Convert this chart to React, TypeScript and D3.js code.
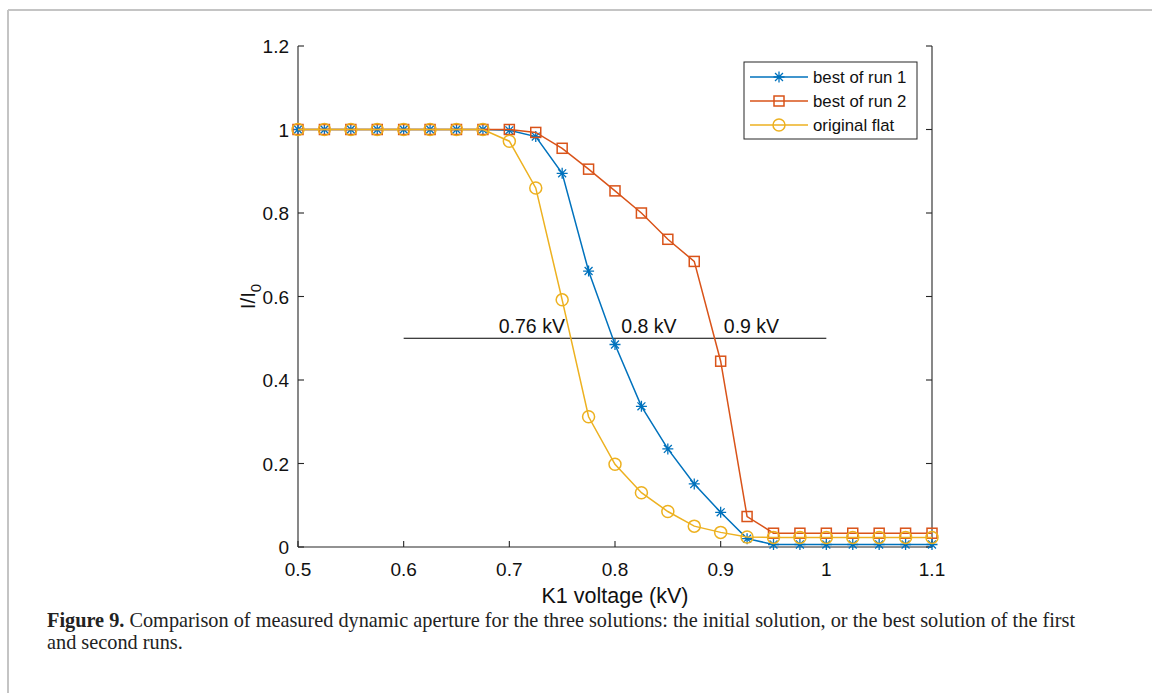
import React from 'react';
import * as d3 from 'd3';

// K1 voltage (kV), step 0.025
const voltages = [
  0.5, 0.525, 0.55, 0.575, 0.6, 0.625, 0.65, 0.675, 0.7, 0.725, 0.75, 0.775, 0.8,
  0.825, 0.85, 0.875, 0.9, 0.925, 0.95, 0.975, 1.0, 1.025, 1.05, 1.075, 1.1,
];

const run1 = [
  1, 1, 1, 1, 1, 1, 1, 1, 0.998, 0.983, 0.895, 0.661, 0.485,
  0.337, 0.235, 0.151, 0.083, 0.02, 0.006, 0.006, 0.006, 0.006, 0.006, 0.006, 0.006,
];

const run2 = [
  1, 1, 1, 1, 1, 1, 1, 1, 1, 0.993, 0.955, 0.905, 0.853,
  0.8, 0.737, 0.684, 0.445, 0.073, 0.033, 0.033, 0.033, 0.033, 0.033, 0.033, 0.033,
];

const flat = [
  1, 1, 1, 1, 1, 1, 1, 1, 0.972, 0.86, 0.592, 0.312, 0.198,
  0.13, 0.085, 0.05, 0.035, 0.024, 0.023, 0.023, 0.023, 0.023, 0.023, 0.023, 0.023,
];

const seriesNames = ['best of run 1', 'best of run 2', 'original flat'];
const seriesColors = ['#0072BD', '#D95319', '#EDB120'];
const seriesMarkers = ['star', 'square', 'circle'];

const xTicks = [0.5, 0.6, 0.7, 0.8, 0.9, 1.0, 1.1];
const yTicks = [0, 0.2, 0.4, 0.6, 0.8, 1.0, 1.2];

// threshold line at I/I0 = 0.5 and its labels
const halfLevel = 0.5;
const halfLineRange = [0.6, 1.0];
const halfLabels = ['0.76 kV', '0.8 kV', '0.9 kV'];
const halfLabelX = [0.69, 0.806, 0.903];

const captionLine1 =
  ' Comparison of measured dynamic aperture for the three solutions: the initial solution, or the best solution of the first';
const captionLine2 = 'and second runs.';

const W = 1152;
const H = 693;
const margin = { left: 298, right: 932, top: 46, bottom: 547 };
const font = '"Liberation Sans", Arial, Helvetica, sans-serif';
const axisColor = '#262626';

const Marker = ({ kind, x, y, color }: { kind: string; x: number; y: number; color: string }) => {
  if (kind === 'circle') {
    return <circle cx={x} cy={y} r={6} fill="none" stroke={color} strokeWidth={1.5} />;
  }
  if (kind === 'square') {
    return <rect x={x - 5} y={y - 5} width={10} height={10} fill="none" stroke={color} strokeWidth={1.5} />;
  }
  const r = 5.5;
  const d = r * 0.72;
  return (
    <path
      d={`M${x},${y - r}L${x},${y + r}M${x - r},${y}L${x + r},${y}M${x - d},${y - d}L${x + d},${y + d}M${x - d},${y + d}L${x + d},${y - d}`}
      stroke={color}
      strokeWidth={1.3}
      fill="none"
    />
  );
};

export default function App() {
  const x = d3.scaleLinear().domain([0.5, 1.1]).range([margin.left, margin.right]);
  const y = d3.scaleLinear().domain([0, 1.2]).range([margin.bottom, margin.top]);

  const allSeries = [run1, run2, flat];
  const line = d3
    .line<number>()
    .x((_, i) => x(voltages[i]))
    .y((d) => y(d));

  const fmt = (v: number) => (Number.isInteger(v) ? String(v) : String(+v.toFixed(2)));

  // legend geometry
  const lg = { x: 744, y: 62, w: 173, h: 77, row: 24 };

  return (
    <div style={{ position: 'absolute', left: 0, top: 0 }}>
      <svg width={W} height={H} style={{ display: 'block', background: '#fff' }}>
        {/* figure frame */}
        <line x1={8} y1={10} x2={W} y2={10} stroke="#c4c4c4" strokeWidth={2} />
        <line x1={8} y1={10} x2={8} y2={H} stroke="#c4c4c4" strokeWidth={2} />

        {/* axes */}
        <g stroke={axisColor} strokeWidth={1.1} fill="none">
          <line x1={margin.left} y1={margin.top} x2={margin.left} y2={margin.bottom} />
          <line x1={margin.right} y1={margin.top} x2={margin.right} y2={margin.bottom} />
          <line x1={margin.left} y1={margin.bottom} x2={margin.right} y2={margin.bottom} />
          {xTicks.map((t) => (
            <line key={'xt' + t} x1={x(t)} x2={x(t)} y1={margin.bottom} y2={margin.bottom - 6} />
          ))}
          {yTicks.map((t) => (
            <g key={'yt' + t}>
              <line x1={margin.left} x2={margin.left + 6} y1={y(t)} y2={y(t)} />
              <line x1={margin.right} x2={margin.right - 6} y1={y(t)} y2={y(t)} />
            </g>
          ))}
        </g>
        <g fontFamily={font} fontSize={19} fill="#111">
          {xTicks.map((t) => (
            <text key={'xl' + t} x={x(t)} y={margin.bottom + 29} textAnchor="middle">
              {fmt(t)}
            </text>
          ))}
          {yTicks.map((t) => (
            <text key={'yl' + t} x={margin.left - 9} y={y(t) + 7} textAnchor="end">
              {fmt(t)}
            </text>
          ))}
        </g>
        <text x={(margin.left + margin.right) / 2} y={603} textAnchor="middle" fontFamily={font} fontSize={21.5} fill="#111">
          K1 voltage (kV)
        </text>
        <text
          transform={`translate(255,${(margin.top + margin.bottom) / 2}) rotate(-90)`}
          textAnchor="middle"
          fontFamily={font}
          fontSize={20.5}
          fill="#111"
        >
          I/I<tspan fontSize={15} dy={6}>0</tspan>
        </text>

        {/* 0.5 threshold line */}
        <line
          x1={x(halfLineRange[0])}
          x2={x(halfLineRange[1])}
          y1={y(halfLevel)}
          y2={y(halfLevel)}
          stroke="#000"
          strokeWidth={1}
        />
        {halfLabels.map((l, i) => (
          <text key={l} x={x(halfLabelX[i])} y={y(halfLevel) - 5} fontFamily={font} fontSize={19.5} fill="#111">
            {l}
          </text>
        ))}

        {/* series */}
        {allSeries.map((s, si) => (
          <g key={seriesNames[si]}>
            <path d={line(s) || ''} fill="none" stroke={seriesColors[si]} strokeWidth={1.5} />
            {s.map((v, i) => (
              <Marker key={i} kind={seriesMarkers[si]} x={x(voltages[i])} y={y(v)} color={seriesColors[si]} />
            ))}
          </g>
        ))}

        {/* legend */}
        <rect x={lg.x} y={lg.y} width={lg.w} height={lg.h} fill="#fff" stroke={axisColor} strokeWidth={1} />
        {seriesNames.map((n, i) => {
          const cy = lg.y + 15 + i * lg.row;
          return (
            <g key={n}>
              <line x1={lg.x + 6} x2={lg.x + 64} y1={cy} y2={cy} stroke={seriesColors[i]} strokeWidth={1.5} />
              <Marker kind={seriesMarkers[i]} x={lg.x + 35} y={cy} color={seriesColors[i]} />
              <text x={lg.x + 69} y={cy + 6} fontFamily={font} fontSize={16.8} fill="#111">
                {n}
              </text>
            </g>
          );
        })}

        {/* caption */}
        <g fontFamily='"Liberation Serif", "Times New Roman", serif' fontSize={20.3} fill="#222">
          <text x={47} y={627}>
            <tspan fontWeight="bold">Figure 9.</tspan>
            {captionLine1}
          </text>
          <text x={47} y={649}>
            {captionLine2}
          </text>
        </g>
      </svg>
    </div>
  );
}
